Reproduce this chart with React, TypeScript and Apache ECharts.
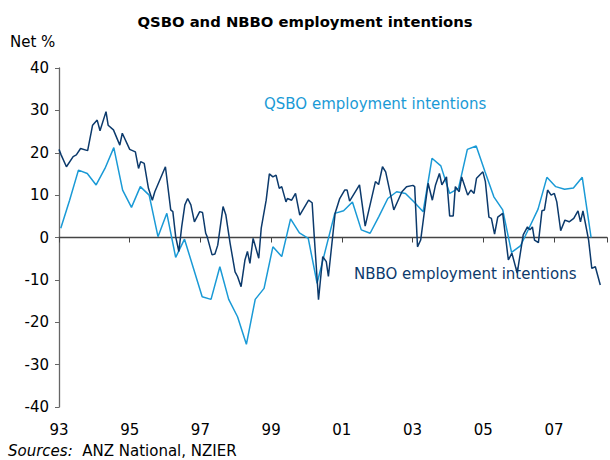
import React, { useEffect, useRef } from "react";
import * as echarts from "echarts";

// QSBO employment intentions (quarterly), first quarter 1993
const qsboStartYear = 1993.05;
const qsboValues = [
  2.2, 8.8, 15.9, 15.1, 12.4, 16.3, 21.2, 11.2, 7.1, 12.0, 10.0, 0.2, 5.7, -4.7, -0.4, -7.2,
  -14.0, -14.6, -6.9, -14.6, -18.7, -25.2, -14.6, -12.0, -2.2, -4.5, 4.4, 1.1, -0.2, -10.8,
  -2.5, 5.7, 6.3, 8.4, 1.8, 1.0, 5.0, 9.2, 10.8, 10.4, 8.3, 6.1, 18.7, 16.9, 10.4, 11.6,
  20.8, 21.6, 15.5, 9.6, 6.5, -3.5, -2.0, 2.3, 6.7, 14.2, 12.0, 11.4, 11.7, 14.2, 0.0,
];

// NBBO employment intentions (monthly survey)
const nbboDates = [
  1993.0, 1993.06, 1993.21, 1993.4, 1993.49, 1993.61, 1993.81, 1993.95, 1994.08, 1994.16,
  1994.33, 1994.39, 1994.54, 1994.72, 1994.79, 1995.0, 1995.16, 1995.25, 1995.31, 1995.41,
  1995.53, 1995.64, 1995.71, 1996.01, 1996.16, 1996.22, 1996.3, 1996.39, 1996.47, 1996.56,
  1996.64, 1996.73, 1996.83, 1996.98, 1997.06, 1997.15, 1997.19, 1997.33, 1997.41, 1997.49,
  1997.64, 1997.72, 1997.84, 1997.98, 1998.05, 1998.15, 1998.26, 1998.33, 1998.4, 1998.49,
  1998.65, 1998.72, 1998.86, 1998.95, 1999.05, 1999.14, 1999.23, 1999.3, 1999.42, 1999.46,
  1999.58, 1999.69, 1999.81, 2000.06, 2000.16, 2000.22, 2000.34, 2000.46, 2000.56, 2000.62,
  2000.81, 2000.94, 2001.08, 2001.15, 2001.22, 2001.5, 2001.66, 2001.95, 2002.04, 2002.15,
  2002.24, 2002.47, 2002.7, 2002.83, 2003.01, 2003.06, 2003.14, 2003.23, 2003.44, 2003.56,
  2003.65, 2003.76, 2003.83, 2003.96, 2004.05, 2004.15, 2004.21, 2004.32, 2004.39, 2004.56,
  2004.65, 2004.74, 2004.81, 2004.99, 2005.06, 2005.16, 2005.23, 2005.32, 2005.41, 2005.55,
  2005.71, 2005.81, 2005.96, 2006.13, 2006.25, 2006.32, 2006.39, 2006.45, 2006.56, 2006.66,
  2006.73, 2006.82, 2006.92, 2007.01, 2007.08, 2007.19, 2007.31, 2007.43, 2007.56, 2007.68,
  2007.75, 2007.82, 2007.89, 2007.98, 2008.07, 2008.17, 2008.31,
];
const nbboValues = [
  20.8, 19.5, 16.7, 19.1, 19.5, 21.0, 20.5, 26.5, 27.7, 25.2,
  29.7, 26.5, 25.4, 21.8, 24.6, 20.8, 20.2, 16.3, 17.9, 17.5,
  11.6, 8.8, 10.8, 16.7, 6.5, 6.1, 0.2, -3.3, 2.5, 7.7,
  9.2, 7.7, 3.7, 6.1, 5.9, 1.0, 0.2, -4.1, -3.9, -1.8,
  7.3, 5.3, -1.4, -8.1, -9.2, -11.6, -5.3, -3.3, -6.1, -0.2,
  -4.9, 2.2, 8.8, 15.0, 14.3, 14.7, 11.6, 12.0, 8.4, 9.2,
  8.8, 10.4, 5.3, 8.8, 8.2, 0.2, -14.7, -4.5, -5.7, -9.2,
  5.7, 9.2, 11.2, 11.2, 8.6, 12.4, 2.7, 13.2, 12.5, 16.7,
  15.5, 6.5, 10.8, 12.0, 12.3, 12.0, -2.2, -0.6, 12.8, 8.8,
  12.4, 15.1, 12.4, 14.3, 5.1, 5.1, 12.0, 10.8, 14.3, 10.0,
  11.2, 10.4, 14.0, 15.5, 13.2, 4.8, 4.5, 0.8, 4.8, 5.7,
  -5.3, -3.7, -8.4, 0.6, 2.5, 1.8, 2.5, -0.6, -1.2, 6.3,
  6.5, 11.2, 10.0, 10.4, 8.4, 1.6, 4.1, 3.7, 4.5, 6.3,
  3.7, 6.3, 3.3, -0.6, -7.3, -6.9, -11.2,
];

const yTicks = { min: -40, max: 40, interval: 10 };
const xRange = { min: 1993, max: 2008.5, interval: 2 };

const QSBO_COLOR = "#1a9ad6";
const NBBO_COLOR = "#0c3a6c";
const FONT = "DejaVu Sans";
const FS = 15;

export default function App() {
  const ref = useRef<HTMLDivElement>(null);

  useEffect(() => {
    if (!ref.current) return;
    const chart = echarts.init(ref.current, null, { renderer: "svg" });

    const qsboData = qsboValues.map((v, i) => [qsboStartYear + i * 0.25, v]);
    const nbboData = nbboDates.map((d, i) => [d, nbboValues[i]]);

    const yearLabel = (v: number) => {
      const r = Math.round(v);
      if (Math.abs(v - r) > 1e-6) return "";
      return String(r % 100).padStart(2, "0");
    };

    chart.setOption({
      animation: false,
      backgroundColor: "#ffffff",
      title: {
        text: "QSBO and NBBO employment intentions",
        left: "center",
        top: 9,
        textStyle: { fontFamily: FONT, fontSize: 14.8, fontWeight: "bold", color: "#000" },
      },
      grid: { left: 59, top: 68, bottom: 53, width: (xRange.max - xRange.min) * 36 },
      xAxis: [
        {
          type: "value",
          min: xRange.min,
          max: xRange.max,
          interval: xRange.interval,
          position: "bottom",
          axisLine: { onZero: true, lineStyle: { color: "#444", width: 1.3 } },
          axisTick: { show: true, length: 5, lineStyle: { color: "#444" } },
          axisLabel: { show: false },
          splitLine: { show: false },
        },
        {
          type: "value",
          min: xRange.min,
          max: xRange.max,
          interval: xRange.interval,
          position: "bottom",
          axisLine: { show: false, onZero: false },
          axisTick: { show: false },
          axisLabel: {
            show: true,
            margin: 15,
            formatter: yearLabel,
            fontFamily: FONT,
            fontSize: FS,
            color: "#000",
          },
          splitLine: { show: false },
        },
      ],
      yAxis: {
        type: "value",
        min: yTicks.min,
        max: yTicks.max,
        interval: yTicks.interval,
        axisLine: { show: true, lineStyle: { color: "#666", width: 1.3 } },
        axisTick: { show: true, length: 4, lineStyle: { color: "#666" } },
        axisLabel: { margin: 10, fontFamily: FONT, fontSize: FS, color: "#000" },
        splitLine: { show: false },
      },
      graphic: [
        {
          type: "text",
          left: 10,
          top: 34,
          style: { text: "Net %", fontFamily: FONT, fontSize: FS, fill: "#000" },
        },
        {
          type: "text",
          left: 264,
          top: 96,
          style: { text: "QSBO employment intentions", fontFamily: FONT, fontSize: FS, fill: QSBO_COLOR },
        },
        {
          type: "text",
          left: 354,
          top: 266,
          style: { text: "NBBO employment intentions", fontFamily: FONT, fontSize: FS, fill: NBBO_COLOR },
        },
        {
          type: "text",
          left: 8,
          top: 443,
          style: {
            text: "{i|Sources:}  ANZ National, NZIER",
            fontFamily: FONT,
            fontSize: FS,
            fill: "#000",
            rich: { i: { fontStyle: "italic", fontFamily: FONT, fontSize: FS } },
          },
        },
      ],
      series: [
        {
          name: "QSBO",
          type: "line",
          xAxisIndex: 0,
          data: qsboData,
          showSymbol: false,
          lineStyle: { color: QSBO_COLOR, width: 1.5 },
          itemStyle: { color: QSBO_COLOR },
          z: 2,
        },
        {
          name: "NBBO",
          type: "line",
          xAxisIndex: 0,
          data: nbboData,
          showSymbol: false,
          lineStyle: { color: NBBO_COLOR, width: 1.5 },
          itemStyle: { color: NBBO_COLOR },
          z: 3,
        },
      ],
    });

    return () => chart.dispose();
  }, []);

  return (
    <div
      ref={ref}
      style={{ position: "fixed", left: 0, top: 0, width: 610, height: 460, overflow: "hidden" }}
    />
  );
}
